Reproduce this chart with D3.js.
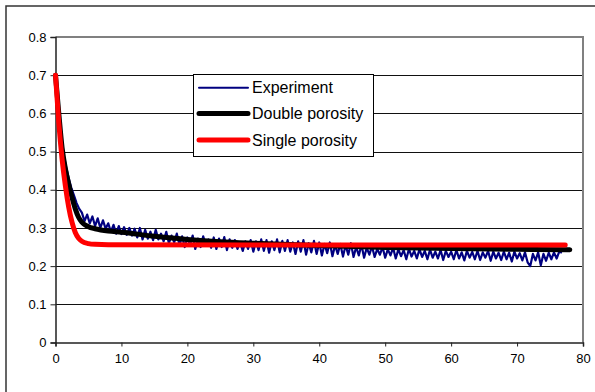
<!DOCTYPE html>
<html>
<head>
<meta charset="utf-8">
<script src="https://cdn.jsdelivr.net/npm/d3@7/dist/d3.min.js"></script>
<style>
  body { margin: 0; background: #fff; }
  svg { display: block; }
  text { font-family: "Liberation Sans", Arial, sans-serif; }
</style>
</head>
<body>
<svg id="chart" width="595" height="392"></svg>
<script>
// ---------- data ----------
const xTicks = [0, 10, 20, 30, 40, 50, 60, 70, 80];
const yTicks = [0, 0.1, 0.2, 0.3, 0.4, 0.5, 0.6, 0.7, 0.8];
const yTickLabels = ["0", "0.1", "0.2", "0.3", "0.4", "0.5", "0.6", "0.7", "0.8"];
const seriesNames = ["Experiment", "Double porosity", "Single porosity"];

// Experiment: samples every 0.4 time units starting at 0
const expStep = 0.4;
const expValues = [
  0.70, 0.62, 0.55, 0.495, 0.46, 0.43, 0.405, 0.385, 0.365, 0.35,
  0.34, 0.318, 0.335, 0.312, 0.33, 0.305, 0.325, 0.30, 0.32, 0.298,
  0.312, 0.29, 0.308, 0.285, 0.305, 0.284, 0.302, 0.282, 0.30, 0.28,
  0.298, 0.275, 0.30, 0.27, 0.295, 0.272, 0.29, 0.268, 0.295, 0.27,
  0.285, 0.265, 0.29, 0.26, 0.28, 0.262, 0.285, 0.255, 0.278, 0.25,
  0.275, 0.255, 0.28, 0.245, 0.272, 0.25, 0.278, 0.255, 0.27, 0.248,
  0.275, 0.245, 0.272, 0.25, 0.276, 0.242, 0.27, 0.248, 0.268, 0.245,
  0.262, 0.24, 0.265, 0.245, 0.268, 0.238, 0.265, 0.242, 0.27, 0.24,
  0.268, 0.235, 0.265, 0.242, 0.27, 0.236, 0.266, 0.24, 0.268, 0.238,
  0.262, 0.232, 0.265, 0.238, 0.268, 0.23, 0.26, 0.236, 0.266, 0.232,
  0.262, 0.228, 0.258, 0.234, 0.262, 0.226, 0.255, 0.232, 0.258, 0.225,
  0.255, 0.23, 0.26, 0.224, 0.25, 0.228, 0.256, 0.222, 0.248, 0.23,
  0.252, 0.224, 0.245, 0.23, 0.25, 0.222, 0.244, 0.228, 0.248, 0.22,
  0.244, 0.226, 0.242, 0.218, 0.245, 0.225, 0.24, 0.22, 0.244, 0.224,
  0.24, 0.218, 0.243, 0.222, 0.238, 0.22, 0.242, 0.216, 0.24, 0.224,
  0.238, 0.218, 0.242, 0.22, 0.236, 0.215, 0.24, 0.222, 0.237, 0.218,
  0.24, 0.216, 0.236, 0.222, 0.24, 0.214, 0.238, 0.22, 0.235, 0.216,
  0.238, 0.218, 0.235, 0.212, 0.238, 0.22, 0.234, 0.215, 0.236, 0.21,
  0.20, 0.232, 0.215, 0.236, 0.202, 0.232, 0.214, 0.235, 0.218, 0.236,
  0.22, 0.238, 0.235
];

const doubleT = [0, 0.5, 1, 1.5, 2, 2.5, 3, 3.5, 4, 5, 6, 8, 10, 15, 20, 25, 30, 40, 50, 60, 70, 78];
const doubleV = [0.70, 0.60, 0.51, 0.455, 0.415, 0.38, 0.35, 0.328, 0.315, 0.303, 0.298, 0.292, 0.289, 0.278, 0.27, 0.264, 0.26, 0.254, 0.249, 0.246, 0.244, 0.243];

const singleT = [0, 0.5, 1, 1.5, 2, 2.5, 3, 3.5, 4, 5, 6, 8, 77.3];
const singleV = [0.70, 0.575, 0.48, 0.41, 0.355, 0.315, 0.288, 0.273, 0.265, 0.259, 0.257, 0.256, 0.255];

// ---------- drawing ----------
const svg = d3.select("#chart");
const x = d3.scaleLinear().domain([0, 80]).range([55.5, 583]);
const y = d3.scaleLinear().domain([0, 0.8]).range([342.5, 37]);

// outer chart border
svg.append("rect").attr("x", 6).attr("y", 6).attr("width", 620).attr("height", 420)
  .attr("fill", "#fff").attr("stroke", "#333").attr("stroke-width", 1.5);

// gridlines
svg.append("g").selectAll("line").data(yTicks.slice(1, -1)).join("line")
  .attr("x1", x(0)).attr("x2", x(80))
  .attr("y1", d => Math.round(y(d)) + 0.5).attr("y2", d => Math.round(y(d)) + 0.5)
  .attr("stroke", "#111").attr("stroke-width", 1);

// plot area border top/right (gray)
svg.append("path")
  .attr("d", `M${x(0)},${y(0.8)}H${x(80)}V${y(0)}`)
  .attr("fill", "none").attr("stroke", "#808080").attr("stroke-width", 2);

// axes
const yAxis = d3.axisLeft(y).tickValues(yTicks).tickFormat((d, i) => yTickLabels[i]).tickSize(5).tickPadding(4);
const gy = svg.append("g").attr("transform", `translate(${x(0)},0)`).call(yAxis);
gy.select(".domain").attr("stroke", "#222").attr("stroke-width", 1.5);
gy.selectAll(".tick line").attr("stroke", "#222");
gy.selectAll("text").attr("font-size", "13px").attr("fill", "#000")
  .attr("font-family", '"Liberation Sans", Arial, sans-serif');

const xAxis = d3.axisBottom(x).tickValues(xTicks).tickSize(4).tickPadding(7);
const gx = svg.append("g").attr("transform", `translate(0,${y(0)})`).call(xAxis);
gx.select(".domain").attr("stroke", "#222").attr("stroke-width", 1.5);
gx.selectAll(".tick line").attr("stroke", "#222");
gx.selectAll("text").attr("font-size", "13px").attr("fill", "#000")
  .attr("font-family", '"Liberation Sans", Arial, sans-serif');

// series
const expData = expValues.map((v, i) => [i * expStep, v]);
const dblData = doubleT.map((t, i) => [t, doubleV[i]]);
const sglData = singleT.map((t, i) => [t, singleV[i]]);

const lineLin = d3.line().x(d => x(d[0])).y(d => y(d[1]));
const lineSmooth = d3.line().x(d => x(d[0])).y(d => y(d[1])).curve(d3.curveMonotoneX);

svg.append("path").datum(expData).attr("d", lineLin)
  .attr("fill", "none").attr("stroke", "#000080").attr("stroke-width", 2.2)
  .attr("stroke-linejoin", "round");
svg.append("path").datum(dblData).attr("d", lineSmooth)
  .attr("fill", "none").attr("stroke", "#000").attr("stroke-width", 5)
  .attr("stroke-linecap", "round").attr("stroke-linejoin", "round");
svg.append("path").datum(sglData).attr("d", lineSmooth)
  .attr("fill", "none").attr("stroke", "#ff0000").attr("stroke-width", 5)
  .attr("stroke-linecap", "round").attr("stroke-linejoin", "round");

// legend
const leg = svg.append("g");
leg.append("rect").attr("x", 193.5).attr("y", 74.5).attr("width", 180).attr("height", 82)
  .attr("fill", "#fff").attr("stroke", "#000").attr("stroke-width", 1);
const legColors = ["#000080", "#000", "#ff0000"];
const legWidths = [2, 5, 5];
const legY = [87.7, 113.5, 140];
seriesNames.forEach((name, i) => {
  leg.append("line").attr("x1", 199).attr("x2", 248).attr("y1", legY[i]).attr("y2", legY[i])
    .attr("stroke", legColors[i]).attr("stroke-width", legWidths[i]).attr("stroke-linecap", "round");
  leg.append("text").attr("x", 252).attr("y", legY[i]).attr("dy", "0.36em")
    .attr("font-size", "16px").attr("fill", "#000").text(name);
});
</script>
</body>
</html>
